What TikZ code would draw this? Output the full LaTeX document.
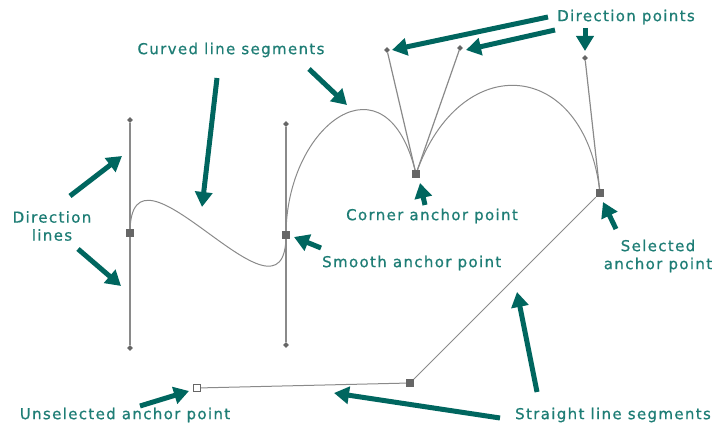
\documentclass[tikz,border=0pt]{standalone}
\usepackage{fontspec}
\setmainfont[LetterSpace=9,FakeBold=0.8]{DejaVu Sans}
\usetikzlibrary{arrows.meta,shapes.geometric}

\definecolor{tealtext}{HTML}{1E7D75}
\definecolor{tealarrow}{HTML}{00665F}
\definecolor{pathgray}{HTML}{8A8A8A}
\definecolor{pointgray}{HTML}{666666}

\begin{document}
\begin{tikzpicture}[x=1pt,y=-1pt,font=\fontsize{15}{18}\selectfont,
  lbl/.style={text=tealtext,align=center,inner sep=0pt},
  ptr/.style={draw=tealarrow,line width=5pt,-{Triangle[length=15pt,width=17pt]}},
  seg/.style={draw=pathgray,line width=1pt},
  dirline/.style={draw=pathgray,line width=1.2pt},
  anchorpt/.style={draw=none,fill=pointgray,minimum size=8pt,inner sep=0pt},
  openpt/.style={draw=pointgray,fill=white,line width=1pt,minimum size=7pt,inner sep=0pt},
  dirpt/.style={diamond,fill=pointgray,minimum size=6pt,inner sep=0pt}]
\useasboundingbox (0,0) rectangle (715,430);
% anchor points
\node[anchorpt] (a1) at (130,233) {};
\node[anchorpt] (a2) at (286,235) {};
\node[anchorpt] (corner) at (416,174) {};
\node[anchorpt] (sel) at (600,193) {};
\node[anchorpt] (a5) at (410,383) {};
\node[openpt] (unsel) at (197,388) {};
% direction points
\node[dirpt] (d1t) at (130,120) {};
\node[dirpt] (d1b) at (130,348) {};
\node[dirpt] (d2t) at (286,124) {};
\node[dirpt] (d2b) at (286,345) {};
\node[dirpt] (d3l) at (387,50) {};
\node[dirpt] (d3r) at (460,48) {};
\node[dirpt] (d4) at (585,58) {};
% direction lines
\draw[dirline] (d1t) -- (d1b);
\draw[dirline] (d2t) -- (d2b);
\draw[dirline] (d3l) -- (corner.center) -- (d3r);
\draw[dirline] (d4) -- (sel.center);
% path segments
\draw[seg] (a1.center) .. controls (d1t.center) and (d2b.center) .. (a2.center);
\draw[seg] (a2.center) .. controls (d2t.center) and (d3l.center) .. (corner.center);
\draw[seg] (corner.center) .. controls (d3r.center) and (d4.center) .. (sel.center);
\draw[seg] (sel) -- (a5.center) -- (unsel);
% redraw points on top
\node[anchorpt] at (a1) {};
\node[anchorpt] at (a2) {};
\node[anchorpt] at (corner) {};
\node[anchorpt] at (sel) {};
\node[anchorpt] at (a5) {};
% labels
\node[lbl] (curved) at (231,50) {Curved line segments};
\node[lbl] (dirpts) at (626,17) {Direction points};
\node[lbl] (dirlines) at (52,226) {Direction\\lines};
\node[lbl] (cornerlbl) at (432,216) {Corner anchor point};
\node[lbl,anchor=west] (smooth) at (322,263) {Smooth anchor point};
\node[lbl] (sellbl) at (658,256) {Selected\\anchor point};
\node[lbl] (unsellbl) at (125,415) {Unselected anchor point};
\node[lbl] (straight) at (613,415) {Straight line segments};
% pointer ends
\coordinate (c1s) at (217,78);  \coordinate (c1e) at (202,207);
\coordinate (c2s) at (309,69);  \coordinate (c2e) at (347,105);
\coordinate (l1s) at (70,196);  \coordinate (l1e) at (122,156);
\coordinate (l2s) at (78,249);  \coordinate (l2e) at (121,286);
\coordinate (sms) at (321,248); \coordinate (sme) at (294,237);
\coordinate (p1s) at (548,17);  \coordinate (p1e) at (392,50);
\coordinate (p2s) at (555,30);  \coordinate (p2e) at (466,50);
\coordinate (p3s) at (585,28);  \coordinate (p3e) at (585,51);
\coordinate (crs) at (425,205); \coordinate (cre) at (420,183);
\coordinate (ses) at (616,229); \coordinate (see) at (603,202);
\coordinate (uns) at (140,406); \coordinate (une) at (189,391);
\coordinate (s1s) at (500,418); \coordinate (s1e) at (334,393);
\coordinate (s2s) at (537,392); \coordinate (s2e) at (517,292);
% pointers
\draw[ptr] (c1s) -- (c1e);
\draw[ptr] (c2s) -- (c2e);
\draw[ptr] (l1s) -- (l1e);
\draw[ptr] (l2s) -- (l2e);
\draw[ptr] (sms) -- (sme);
\draw[ptr] (p1s) -- (p1e);
\draw[ptr] (p2s) -- (p2e);
\draw[ptr] (p3s) -- (p3e);
\draw[ptr] (crs) -- (cre);
\draw[ptr] (ses) -- (see);
\draw[ptr] (uns) -- (une);
\draw[ptr] (s1s) -- (s1e);
\draw[ptr] (s2s) -- (s2e);
\end{tikzpicture}
\end{document}
